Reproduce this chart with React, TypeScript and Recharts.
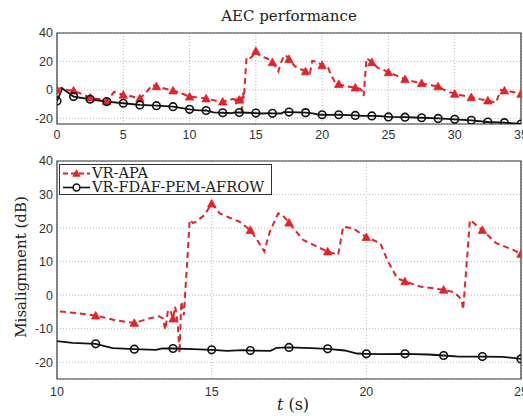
import React from 'react';
import { LineChart, Line, XAxis, YAxis, CartesianGrid, ReferenceArea, Legend } from 'recharts';

// ---------- data ----------
const apaT = [
  0, 0.3, 0.8, 1.25, 2.0, 2.5, 3.2, 3.75, 4.3, 5, 5.6, 6.25, 6.6, 7.2, 7.5, 8.1, 8.75, 9.4,
  10, 10.6, 11.25, 11.9, 12.5, 13.0, 13.3, 13.42, 13.5, 13.58, 13.66, 13.75, 13.82, 13.9, 13.96,
  14.02, 14.1, 14.15, 14.2, 14.29, 14.4, 14.5, 14.77, 15, 15.26, 15.6, 15.9, 16.25, 16.5, 16.7,
  16.88, 17.15, 17.3, 17.5, 17.95, 18.4, 18.75, 19.09, 19.25, 19.57, 20, 20.45, 20.7, 21.0, 21.25,
  21.73, 22.5, 22.86, 23.08, 23.13, 23.35, 23.75, 24.2, 24.75, 25, 25.5, 26.25, 26.8, 27.5, 28.1,
  28.75, 29.4, 30, 30.6, 31.25, 31.9, 32.5, 33.1, 33.5, 33.75, 34.4, 35,
];
const apaV = [
  0, 1.5, 0, -0.5, -3.5, -5.5, -6.5, -8, -1.5, -3.5, -4.5, -6, -3, 3.5, 2.5, 1, -0.5, -2.5,
  -4.8, -5.3, -6.1, -7.5, -8.3, -6.9, -6.3, -6.9, -10.3, -5, -4.3, -7, -3.4, -8.3, -17.3,
  -1.9, -6, 1.6, 8.5, 22.4, 21.5, 21.9, 23.9, 27.3, 24.4, 23, 21.9, 19.4, 16, 13,
  18.9, 24.4, 23.8, 21.6, 16.5, 14.5, 13, 12, 20.4, 19.9, 17.3, 15.5, 10, 5, 4.1,
  2.6, 1.6, 0.8, -1.4, -4.3, 22.4, 19.4, 15.5, 13.5, 12.3, 10.5, 7.5, 6, 4.7, 3.5,
  2.4, -1, -2.8, -4, -5.2, -6.5, -7.5, -9, 0, -0.5, -1.5, -2.8,
];
const fdafT = [
  0, 0.4, 1.25, 2.5, 3.75, 5, 6.25, 7.5, 8.75, 10, 10.5, 11.25, 11.8, 12.5, 13.2, 13.4, 13.75,
  14.4, 15, 15.5, 16, 16.25, 16.9, 17.1, 17.5, 18.2, 18.75, 19.3, 19.7, 20, 20.5, 21.25, 22,
  22.5, 23, 23.75, 24.4, 25, 26.25, 27.5, 28.75, 30, 31.25, 32.5, 33.75, 35,
];
const fdafV = [
  -7.8, 1, -4.7, -6.6, -8.2, -9.4, -10.6, -11.1, -11.8, -13.7, -14.2, -14.5, -15.8, -16.1, -16.3, -15.9, -15.9,
  -16.1, -16.3, -16.6, -16.4, -16.5, -16.6, -15.7, -15.6, -15.8, -16, -16.5, -17.4, -17.5, -17.6, -17.5, -17.7,
  -18, -18.3, -18.3, -18.4, -19, -19.2, -19.6, -20.1, -20.7, -21.4, -22.6, -23.1, -24,
];
const seriesNames = ['VR-APA', 'VR-FDAF-PEM-AFROW'];
const topXTicks = [0, 5, 10, 15, 20, 25, 30, 35];
const topYTicks = [-20, 0, 20, 40];
const botXTicks = [10, 15, 20, 25];
const botYTicks = [-20, -10, 0, 10, 20, 30, 40];
const titleText = 'AEC performance';
const yLabelText = 'Misalignment (dB)';
const markerStep = 1.25;

const apaData = apaT.map((t, i) => ({ t, v: apaV[i] }));
const fdafData = fdafT.map((t, i) => ({ t, v: fdafV[i] }));

// ---------- styles ----------
const RED = '#e3232a';
const BLACK = '#111';
const SERIF = '"DejaVu Serif", serif';
const tickStyle = { fontFamily: '"Liberation Sans", Arial, sans-serif', fontSize: 12.5, fill: '#333' };

const isMarker = (t: number) => Math.abs(t / markerStep - Math.round(t / markerStep)) < 1e-6;

const triDot = (minT: number) => (props: any) => {
  const { cx, cy, payload, index } = props;
  if (!isMarker(payload.t) || payload.t <= minT || cx == null) return <g key={`t${index}`} />;
  const s = 4.2;
  return (
    <polygon
      key={`t${index}`}
      points={`${cx},${cy - s} ${cx - s},${cy + s * 0.8} ${cx + s},${cy + s * 0.8}`}
      fill={RED}
      stroke={RED}
      strokeWidth={0.8}
    />
  );
};
const circDot = (minT: number) => (props: any) => {
  const { cx, cy, payload, index } = props;
  if (!isMarker(payload.t) || payload.t <= minT || cx == null) return <g key={`c${index}`} />;
  return <circle key={`c${index}`} cx={cx} cy={cy} r={3.8} fill="none" stroke={BLACK} strokeWidth={1.6} />;
};

const renderLegend = (props: any) => {
  const payload = props.payload || [];
  return (
    <div
      style={{
        border: '1px solid #333',
        background: '#fff',
        fontFamily: SERIF,
        fontSize: 14.6,
        lineHeight: '14px',
        padding: '1px 0 0 1px',
        width: 210,
        color: '#222',
      }}
    >
      {payload.map((p: any, i: number) => (
        <div key={i} style={{ display: 'flex', alignItems: 'center', height: 14 }}>
          <svg width={31} height={13} style={{ flex: 'none' }}>
            {i === 0 ? (
              <g>
                <line x1={2} y1={6.5} x2={29} y2={6.5} stroke={RED} strokeWidth={2} strokeDasharray="5 3" />
                <polygon points="15.5,2.3 11.3,9.8 19.7,9.8" fill={RED} />
              </g>
            ) : (
              <g>
                <line x1={2} y1={6.5} x2={29} y2={6.5} stroke={BLACK} strokeWidth={1.6} />
                <circle cx={15.5} cy={6.5} r={3.4} fill="#fff" stroke={BLACK} strokeWidth={1.5} />
              </g>
            )}
          </svg>
          <span style={{ whiteSpace: 'nowrap' }}>{p.value}</span>
        </div>
      ))}
    </div>
  );
};

const YLabel = (props: any) => {
  const vb = props.viewBox || { x: 0, y: 0, width: 0, height: 0 };
  const x = vb.x + 21;
  const y = vb.y + vb.height / 2 - 3;
  return (
    <text
      x={x}
      y={y}
      transform={`rotate(-90 ${x} ${y})`}
      textAnchor="middle"
      dominantBaseline="central"
      fontFamily={SERIF}
      fontSize={15}
      fill="#222"
    >
      {yLabelText}
    </text>
  );
};

const XLabel = (props: any) => {
  const vb = props.viewBox || { x: 0, y: 0, width: 0, height: 0 };
  return (
    <text x={vb.x + vb.width / 2 + 4} y={vb.y + 31} textAnchor="middle" fontFamily={SERIF} fontSize={16} fill="#222">
      <tspan fontStyle="italic" fontFamily={SERIF}>t</tspan>
      <tspan fontFamily={SERIF}> (s)</tspan>
    </text>
  );
};

export default function App() {
  return (
    <div style={{ position: 'absolute', left: 0, top: 0, width: 523, height: 416, background: '#fff', overflow: 'hidden' }}>
      <svg width={523} height={30} style={{ position: 'absolute', left: 0, top: 0 }}>
        <text x={289} y={21} textAnchor="middle" fontFamily={SERIF} fontSize={15} fill="#222">
          {titleText}
        </text>
      </svg>

      <div style={{ position: 'absolute', left: 0, top: 0 }}>
        <LineChart width={523} height={150} margin={{ top: 33, right: 2, bottom: 0, left: 0 }}>
          <CartesianGrid stroke="#b8b8b8" strokeDasharray="1 2" />
          <XAxis
            dataKey="t"
            type="number"
            domain={[0, 35]}
            ticks={topXTicks}
            interval={0}
            allowDataOverflow
            height={26}
            tickSize={0}
            tickMargin={6}
            tick={tickStyle}
            axisLine={false}
          />
          <YAxis
            type="number"
            domain={[-24, 40]}
            ticks={topYTicks}
            interval={0}
            allowDataOverflow
            width={57}
            tickSize={0}
            tickMargin={4}
            tick={tickStyle}
            axisLine={false}
          />
          <Line data={apaData} dataKey="v" name={seriesNames[0]} stroke={RED} strokeWidth={2} strokeDasharray="6 4" dot={triDot(-1)} activeDot={false} isAnimationActive={false} type="linear" />
          <Line data={fdafData} dataKey="v" name={seriesNames[1]} stroke={BLACK} strokeWidth={1.8} dot={circDot(-1)} activeDot={false} isAnimationActive={false} type="linear" />
          <ReferenceArea x1={0} x2={35} y1={-24} y2={40} fill="none" stroke="#3a3a3a" strokeWidth={1.2} ifOverflow="visible" />
        </LineChart>
      </div>

      <div style={{ position: 'absolute', left: 0, top: 150 }}>
        <LineChart width={523} height={266} margin={{ top: 11, right: 2, bottom: 0, left: 0 }}>
          <CartesianGrid stroke="#b8b8b8" strokeDasharray="1 2" />
          <XAxis
            dataKey="t"
            type="number"
            domain={[10, 25]}
            ticks={botXTicks}
            interval={0}
            allowDataOverflow
            height={37}
            tickSize={0}
            tickMargin={8}
            tick={tickStyle}
            axisLine={false}
            label={<XLabel />}
          />
          <YAxis
            type="number"
            domain={[-25, 40]}
            ticks={botYTicks}
            interval={0}
            allowDataOverflow
            width={57}
            tickSize={0}
            tickMargin={4}
            tick={tickStyle}
            axisLine={false}
            label={<YLabel />}
          />
          <Line data={apaData} dataKey="v" name={seriesNames[0]} stroke={RED} strokeWidth={2} strokeDasharray="6 4" dot={triDot(10)} activeDot={false} isAnimationActive={false} type="linear" />
          <Line data={fdafData} dataKey="v" name={seriesNames[1]} stroke={BLACK} strokeWidth={1.8} dot={circDot(10)} activeDot={false} isAnimationActive={false} type="linear" />
          <ReferenceArea x1={10} x2={25} y1={-25} y2={40} fill="none" stroke="#3a3a3a" strokeWidth={1.2} ifOverflow="visible" />
          <Legend
            layout="vertical"
            align="center"
            verticalAlign="middle"
            content={renderLegend}
            wrapperStyle={{ left: 59, top: 14, width: 212, height: 'auto' }}
          />
        </LineChart>
      </div>
    </div>
  );
}
